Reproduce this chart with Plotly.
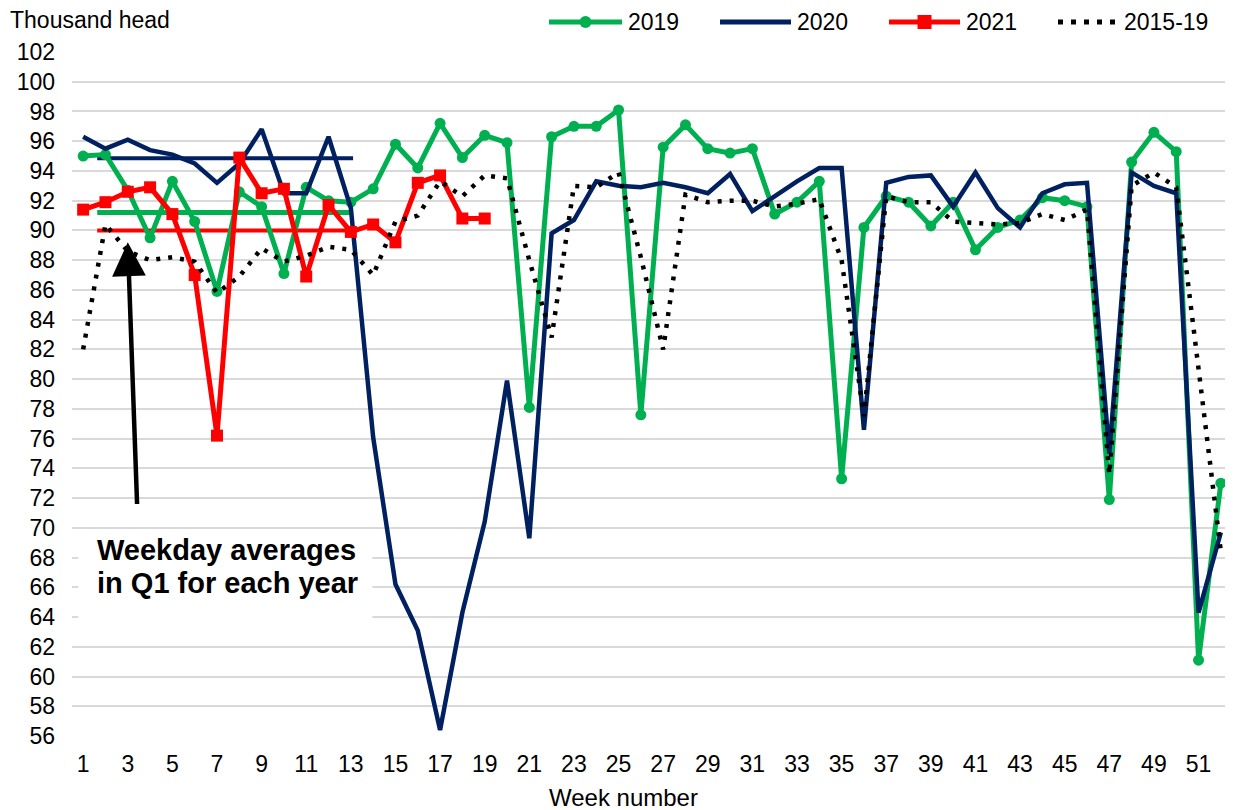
import plotly.graph_objects as go

# Weekly values, thousand head
weeks = list(range(1, 53))

y2019 = [95.0, 95.1, 92.7, 89.5, 93.3, 90.6, 85.9, 92.6, 91.6, 87.1,
         92.9, 92.0, 91.9, 92.8, 95.8, 94.2, 97.2, 94.9, 96.4, 95.9,
         78.1, 96.3, 97.0, 97.0, 98.1, 77.6, 95.6, 97.1, 95.5, 95.2,
         95.5, 91.1, 91.9, 93.3, 73.3, 90.2, 92.3, 91.9, 90.3, 91.9,
         88.7, 90.2, 90.7, 92.2, 92.0, 91.6, 71.9, 94.6, 96.6, 95.3,
         61.1, 73.0]

y2020 = [96.3, 95.5, 96.1, 95.4, 95.1, 94.5, 93.2, 94.5, 96.8, 92.5,
         92.5, 96.3, 91.5, 76.1, 66.2, 63.1, 56.4, 64.3, 70.4, 79.9,
         69.3, 89.8, 90.7, 93.3, 93.0, 92.9, 93.2, 92.9, 92.5, 93.8,
         91.3, 92.3, 93.3, 94.2, 94.2, 76.6, 93.2, 93.6, 93.7, 91.6,
         93.9, 91.5, 90.2, 92.5, 93.1, 93.2, 75.0, 93.9, 93.0, 92.5,
         64.3, 69.7]

y2021 = [91.4, 91.9, 92.6, 92.9, 91.1, 87.0, 76.2, 94.9, 92.5, 92.8,
         86.9, 91.7, 89.9, 90.4, 89.2, 93.2, 93.7, 90.8, 90.8]

y2015_19 = [82.0, 90.4, 88.6, 88.0, 88.2, 87.9, 85.8, 86.9, 88.8, 87.9,
            88.3, 88.9, 88.7, 87.0, 90.6, 91.0, 93.3, 92.3, 93.7, 93.5,
            88.0, 82.8, 93.0, 92.9, 93.9, 88.2, 82.0, 92.4, 91.9, 92.0,
            92.0, 91.6, 91.8, 92.1, 88.0, 77.5, 92.3, 91.9, 91.9, 90.6,
            90.5, 90.4, 90.5, 91.1, 90.7, 91.4, 73.6, 93.0, 93.9, 92.9,
            80.7, 68.4]

# Q1 weekday averages (drawn as flat lines across weeks 1-13)
q1_avg = {"2019": 91.2, "2020": 94.85, "2021": 90.0}
q1_span = [1.63, 13.1]

GREEN = "#00B050"
NAVY = "#002060"
RED = "#FF0000"
FONT = "Liberation Sans, Arial, sans-serif"

# page pixel -> paper coords (page body has an 8px margin; plot area 72..1232 x 52..736)
def px(x):
    return (x - 72) / 1160

def py(y):
    return (736 - y) / 684

fig = go.Figure()

# flat average lines
for yr, col, w in [("2020", NAVY, 4), ("2019", GREEN, 5), ("2021", RED, 4)]:
    fig.add_trace(go.Scatter(
        x=q1_span, y=[q1_avg[yr]] * 2, mode="lines",
        line=dict(color=col, width=w), showlegend=False, hoverinfo="skip",
    ))

fig.add_trace(go.Scatter(
    x=weeks, y=y2019, name="2019", mode="lines+markers", showlegend=False,
    line=dict(color=GREEN, width=5),
    marker=dict(symbol="circle", size=11, color=GREEN),
))
fig.add_trace(go.Scatter(
    x=weeks, y=y2020, name="2020", mode="lines", showlegend=False,
    line=dict(color=NAVY, width=4.5),
))
fig.add_trace(go.Scatter(
    x=weeks[:len(y2021)], y=y2021, name="2021", mode="lines+markers", showlegend=False,
    line=dict(color=RED, width=5),
    marker=dict(symbol="square", size=12, color=RED),
))
fig.add_trace(go.Scatter(
    x=weeks, y=y2015_19, name="2015-19", mode="lines", showlegend=False,
    line=dict(color="black", width=4.5, dash="4px,8px"),
))

# legend drawn by hand so the sample lines are as long as in the original
legend_items = [
    ("2019", GREEN, "solid", 549, 622, "circle"),
    ("2020", NAVY, "solid", 720, 791, None),
    ("2021", RED, "solid", 889, 960, "square"),
    ("2015-19", "black", "5px,8px", 1058, 1118, None),
]
LEG_Y = 22
for label, col, dash, x0, x1, mk in legend_items:
    fig.add_shape(type="line", xref="paper", yref="paper",
                  x0=px(x0), x1=px(x1), y0=py(LEG_Y), y1=py(LEG_Y),
                  line=dict(color=col, width=5, dash=dash))
    if mk:
        r = 6 if mk == "circle" else 7
        fig.add_shape(type="circle" if mk == "circle" else "rect",
                      xref="paper", yref="paper", xsizemode="pixel", ysizemode="pixel",
                      xanchor=px((x0 + x1) / 2), yanchor=py(LEG_Y),
                      x0=-r, x1=r, y0=-r, y1=r, fillcolor=col, line=dict(width=0))
    fig.add_annotation(x=px(x1 + 4), y=py(LEG_Y), xref="paper", yref="paper",
                       xanchor="left", yanchor="middle", text=label, showarrow=False,
                       font=dict(size=23, color="black", family=FONT))

# white label box + arrow
fig.add_shape(type="rect", xref="x", yref="y", x0=0.78, x1=13.96, y0=62.2, y1=69.85,
              fillcolor="white", line=dict(width=0), layer="above")
fig.add_annotation(
    x=3.0, y=89.2, ax=3.42, ay=71.5, xref="x", yref="y", axref="x", ayref="y",
    text="", showarrow=True, arrowhead=2, arrowsize=1.5, arrowwidth=4.5,
    arrowcolor="black", standoff=0,
)
for txt, yv in [("Weekday averages", 68.5), ("in Q1 for each year", 66.3)]:
    fig.add_annotation(
        x=1.55, y=yv, xref="x", yref="y", xanchor="left", yanchor="middle",
        text="<b>" + txt + "</b>", showarrow=False,
        font=dict(size=29, color="black", family=FONT),
    )

# axis captions
fig.add_annotation(
    x=px(8), y=py(20), xref="paper", yref="paper", xanchor="left", yanchor="middle",
    text="Thousand head", showarrow=False, font=dict(size=23, color="black", family=FONT),
)
fig.add_annotation(
    x=px(623), y=py(798), xref="paper", yref="paper", xanchor="center", yanchor="middle",
    text="Week number", showarrow=False, font=dict(size=24, color="black", family=FONT),
)

fig.update_layout(
    width=1225, height=802,
    margin=dict(l=64, r=1, t=44, b=74, autoexpand=False),
    plot_bgcolor="white", paper_bgcolor="white",
    font=dict(family=FONT, size=23, color="black"),
    showlegend=False,
    xaxis=dict(
        range=[0.5, 52.5], tickvals=list(range(1, 52, 2)), showgrid=False,
        zeroline=False, showline=False, ticks="", ticklabelstandoff=12,
        tickfont=dict(size=23),
    ),
    yaxis=dict(
        range=[56, 102], tick0=56, dtick=2, showgrid=True, gridcolor="#d9d9d9",
        gridwidth=1.5, zeroline=False, showline=False, ticks="",
        ticklabelstandoff=16, tickfont=dict(size=23),
    ),
)

fig.write_html("out.html")
